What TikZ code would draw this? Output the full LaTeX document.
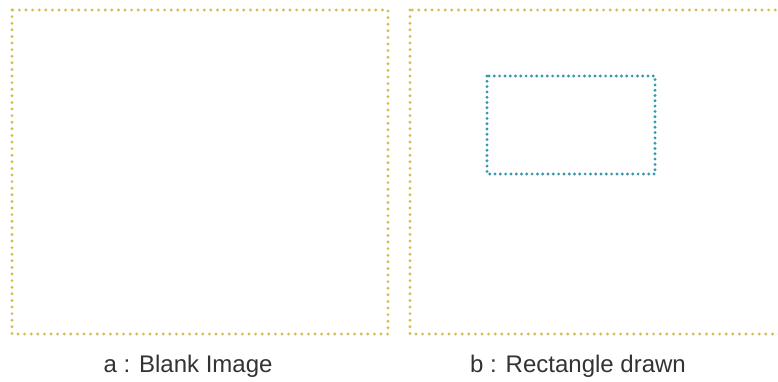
\documentclass[tikz,border=0pt]{standalone}
\usepackage{fontspec}
\setmainfont{Liberation Sans}
\definecolor{frameyellow}{HTML}{D2BE55}
\definecolor{rectblue}{HTML}{3598AC}
\definecolor{labelgray}{HTML}{333333}
\tikzset{
  framebox/.style={draw=frameyellow, line width=3.2pt, line cap=round,
    dash pattern=on 0pt off 6.6pt},
  drawnrect/.style={draw=rectblue, line width=3.2pt, line cap=round,
    dash pattern=on 0pt off 5.3pt},
  caption/.style={text=labelgray, font=\fontsize{24pt}{26pt}\selectfont, anchor=center}
}
\begin{document}
\begin{tikzpicture}[x=1pt,y=-1pt]
  \useasboundingbox (0,0) rectangle (778,381);
  \clip (0,0) rectangle (778,381);
  % left frame: the blank image
  \draw[framebox] (12,10) rectangle (388,334);
  % right frame: the image with a rectangle drawn on it
  \draw[framebox] (410,10) rectangle (790,334);
  \draw[drawnrect] (487,76) rectangle (655,174);
  % captions
  \node[caption] (capa) at (188,366) {a : Blank Image};
  \node[caption] (capb) at (578,366) {b : Rectangle drawn};
\end{tikzpicture}
\end{document}
